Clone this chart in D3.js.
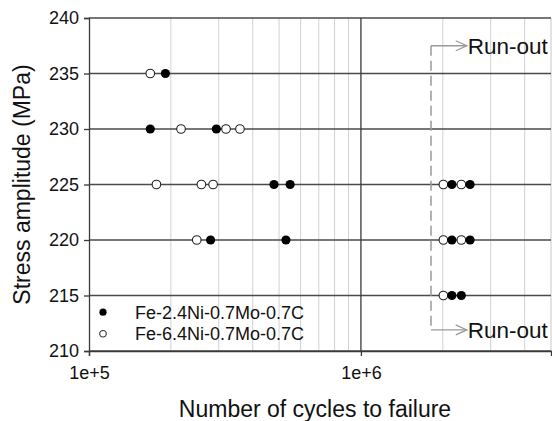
<!DOCTYPE html>
<html>
<head>
<meta charset="utf-8">
<script src="https://cdn.jsdelivr.net/npm/d3@7"></script>
<style>
  body { margin: 0; background: #fff; }
  svg text { font-family: "Liberation Sans", Arial, sans-serif; fill: #111; }
</style>
</head>
<body>
<div id="chart"></div>
<script>
// Fe-2.4Ni-0.7Mo-0.7C (filled) : [cycles, stress]
const filledPoints = [
  [1.91e5, 235],
  [1.68e5, 230], [2.94e5, 230],
  [4.79e5, 225], [5.49e5, 225],
  [2.80e5, 220], [5.30e5, 220],
  [2.16e6, 225], [2.52e6, 225],
  [2.16e6, 220], [2.52e6, 220],
  [2.16e6, 215], [2.34e6, 215]
];
// Fe-6.4Ni-0.7Mo-0.7C (open)
const openPoints = [
  [1.68e5, 235],
  [2.18e5, 230], [3.19e5, 230], [3.59e5, 230],
  [1.77e5, 225], [2.59e5, 225], [2.86e5, 225],
  [2.49e5, 220],
  [2.01e6, 225], [2.34e6, 225],
  [2.01e6, 220], [2.34e6, 220],
  [2.01e6, 215]
];
const legendLabels = ["Fe-2.4Ni-0.7Mo-0.7C", "Fe-6.4Ni-0.7Mo-0.7C"];
const yTicks = [210, 215, 220, 225, 230, 235, 240];
const xMajorTicks = [1e5, 1e6];
const xMinorTicks = [2e5, 3e5, 4e5, 5e5, 6e5, 7e5, 8e5, 9e5, 2e6, 3e6, 4e6];
// run-out bracket: x position, y of top / bottom arrows, arrow tip
const runoutX = 1.81e6;
const runoutTip = 2.45e6;
const runoutY = [237.5, 211.9];

const width = 552, height = 421;
const margin = {top: 18, right: 1, bottom: 70, left: 89};
const w = width - margin.left - margin.right;
const h = height - margin.top - margin.bottom;

const svg = d3.select("#chart").append("svg")
    .attr("width", width)
    .attr("height", height);
const g = svg.append("g")
    .attr("transform", `translate(${margin.left},${margin.top})`);

const x = d3.scaleLog().domain([1e5, 5e6]).range([0, w]);
const y = d3.scaleLinear().domain([210, 240]).range([h, 0]);

// minor vertical grid
g.selectAll(".minor").data(xMinorTicks).enter().append("line")
    .attr("x1", d => x(d)).attr("x2", d => x(d))
    .attr("y1", 0).attr("y2", h)
    .attr("stroke", "#d2d2d2").attr("stroke-width", 1);

// right frame
g.append("line")
    .attr("x1", w).attr("x2", w).attr("y1", 0).attr("y2", h)
    .attr("stroke", "#c8c8c8");

// horizontal grid
g.selectAll(".hgrid").data(yTicks).enter().append("line")
    .attr("x1", 0).attr("x2", w)
    .attr("y1", d => y(d)).attr("y2", d => y(d))
    .attr("stroke", "#4a4a4a").attr("stroke-width", 1.3);

// major vertical grid (1e6)
g.append("line")
    .attr("x1", x(1e6)).attr("x2", x(1e6))
    .attr("y1", 0).attr("y2", h)
    .attr("stroke", "#3a3a3a").attr("stroke-width", 1.3);

// axes
const yAxis = d3.axisLeft(y).tickValues(yTicks).tickSize(5).tickPadding(5);
const yAxisG = g.append("g").call(yAxis);
yAxisG.select(".domain").attr("stroke", "#3a3a3a").attr("stroke-width", 1.3);
yAxisG.selectAll(".tick line").attr("stroke", "#3a3a3a").attr("stroke-width", 1.3);
yAxisG.selectAll("text").style("font-size", "18px")
    .style("font-family", '"Liberation Sans", Arial, sans-serif').attr("fill", "#111");

const xAxis = d3.axisBottom(x).tickValues(xMajorTicks).tickSize(5).tickPadding(10)
    .tickFormat(d => "1e+" + Math.round(Math.log10(d)));
const xAxisG = g.append("g").attr("transform", `translate(0,${h})`).call(xAxis);
xAxisG.select(".domain").attr("stroke", "#3a3a3a").attr("stroke-width", 1.3);
xAxisG.selectAll(".tick line").attr("stroke", "#3a3a3a").attr("stroke-width", 1.3);
xAxisG.selectAll("text").style("font-size", "18px")
    .style("font-family", '"Liberation Sans", Arial, sans-serif').attr("fill", "#111");

// run-out bracket
const gray = "#9a9a9a";
g.append("line")
    .attr("x1", x(runoutX)).attr("x2", x(runoutX))
    .attr("y1", y(runoutY[0])).attr("y2", y(runoutY[1]))
    .attr("stroke", gray).attr("stroke-width", 1.5)
    .attr("stroke-dasharray", "10,5");
runoutY.forEach(v => {
  const yy = y(v), tip = x(runoutTip);
  g.append("line")
      .attr("x1", x(runoutX)).attr("x2", tip)
      .attr("y1", yy).attr("y2", yy)
      .attr("stroke", gray).attr("stroke-width", 1.3);
  g.append("path")
      .attr("d", `M${tip - 11},${yy - 5}L${tip},${yy}L${tip - 11},${yy + 5}`)
      .attr("fill", "none").attr("stroke", gray).attr("stroke-width", 1.3);
  g.append("text")
      .attr("x", tip + 1).attr("y", yy + 8)
      .style("font-size", "22.5px")
      .text("Run-out");
});

// points
g.selectAll(".open").data(openPoints).enter().append("circle")
    .attr("cx", d => x(d[0])).attr("cy", d => y(d[1]))
    .attr("r", 4.3)
    .attr("fill", "#fff").attr("stroke", "#222").attr("stroke-width", 1.1);
g.selectAll(".filled").data(filledPoints).enter().append("circle")
    .attr("cx", d => x(d[0])).attr("cy", d => y(d[1]))
    .attr("r", 4.6)
    .attr("fill", "#000");

// legend
const legend = g.append("g").attr("transform", `translate(14,${y(213.5)})`);
legendLabels.forEach((lab, i) => {
  const row = legend.append("g").attr("transform", `translate(0,${i * 21.6})`);
  row.append("circle")
      .attr("r", i === 0 ? 3.6 : 3.3)
      .attr("fill", i === 0 ? "#000" : "#fff")
      .attr("stroke", i === 0 ? "none" : "#333").attr("stroke-width", 1.1);
  row.append("text")
      .attr("x", 32).attr("y", 6.5)
      .style("font-size", "18px")
      .text(lab);
});

// axis titles
svg.append("text")
    .attr("x", margin.left + w / 2 - 5).attr("y", 417)
    .attr("text-anchor", "middle")
    .style("font-size", "23px")
    .text("Number of cycles to failure");
svg.append("text")
    .attr("transform", `translate(30,${margin.top + h / 2}) rotate(-90)`)
    .attr("text-anchor", "middle")
    .style("font-size", "23px")
    .text("Stress amplitude (MPa)");
</script>
</body>
</html>
